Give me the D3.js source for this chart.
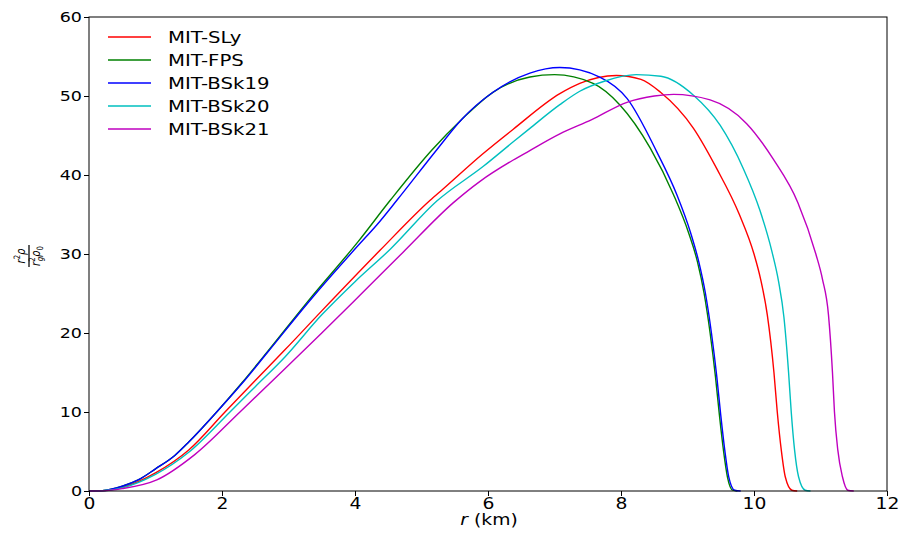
<!DOCTYPE html>
<html>
<head>
<meta charset="utf-8">
<script src="https://cdn.jsdelivr.net/npm/d3@7"></script>
<style>
  body { margin: 0; background: #fff; }
  text { font-family: "DejaVu Sans", sans-serif; fill: #000; }
</style>
</head>
<body>
<svg id="chart" width="906" height="534"></svg>
<script>
// values, [r (km), r^2 rho / rg^2 rho0]
var sly = [[0,0],[0.2,0.03],[0.5,0.45],[1.0,2.3],[1.5,5.2],[2.045,10],[2.5,14.0],[2.95,17.9],[3.5,22.8],[4.38,30.5],[5.13,36.8],
  [5.32,38.2],[5.91,42.6],[6.38,45.8],[7.08,50.3],[7.38,51.6],[7.93,52.6],[8.3,52.1],[8.59,50.5],[9.09,45.9],[9.44,40.8],
  [9.78,35.0],[10.0,30.0],[10.1,26.8],[10.2,22.3],[10.3,15.0],[10.35,10.0],[10.41,5.2],[10.47,1.8],[10.57,0.1],[10.65,0]];
var fps = [[0,0],[0.2,0.05],[0.5,0.6],[0.74,1.4],[1.0,2.8],[1.29,4.5],[1.5,6.2],[1.92,10],[2.3,13.7],[2.68,17.6],[3.3,24.1],
  [4.05,31.6],[4.53,36.8],[5.16,43.2],[5.6,47],[6.08,50.5],[6.63,52.4],[7.0,52.7],[7.58,51.6],[7.98,48.9],[8.44,43.4],
  [8.79,37.5],[9.02,32.6],[9.15,29.0],[9.25,25.0],[9.34,20.0],[9.42,14.5],[9.48,9.6],[9.54,5.2],[9.6,1.8],[9.68,0.1],[9.75,0]];
var bsk19 = [[0,0],[0.2,0.05],[0.5,0.6],[0.74,1.4],[1.0,2.8],[1.29,4.5],[1.5,6.2],[1.92,10],[2.3,13.6],[2.68,17.5],[3.3,23.9],
  [4.05,31.1],[4.33,33.7],[4.63,36.8],[5.23,43.2],[5.6,47],[6.08,50.5],[6.63,52.9],[7.08,53.6],[7.68,52.4],[8.09,49.7],
  [8.54,42.9],[8.84,37.5],[9.05,32.6],[9.17,29.0],[9.27,25.0],[9.36,20.0],[9.44,14.5],[9.5,9.6],[9.56,5.2],[9.62,1.8],
  [9.71,0.1],[9.8,0]];
var bsk20 = [[0,0],[0.2,0.03],[0.5,0.4],[1.0,2.1],[1.5,4.9],[2.12,10],[2.5,13.2],[2.95,17.0],[3.5,22.3],[4.0,26.5],[4.53,30.6],
  [5.23,36.7],[5.93,41.1],[6.38,44.2],[6.63,45.9],[7.08,48.9],[7.38,50.6],[7.76,51.9],[8.23,52.7],[8.6,52.5],[9.09,50.1],
  [9.49,46.3],[9.84,40.8],[10.09,35.5],[10.27,30.3],[10.37,26.5],[10.45,22.0],[10.52,15.0],[10.56,10.0],[10.61,5.2],
  [10.67,1.8],[10.77,0.1],[10.85,0]];
var bsk21 = [[0,0],[0.2,0.02],[0.5,0.3],[1.02,1.4],[1.59,4.6],[2.27,10],[2.95,15.5],[3.5,20.0],[4.1,25.0],[4.72,30.2],
  [5.48,36.5],[5.88,39.2],[6.38,41.9],[6.61,43.0],[7.08,45.2],[7.56,47.0],[8.09,49.2],[8.5,50.0],[8.79,50.2],[9.34,49.5],
  [9.89,46.5],[10.29,42.0],[10.66,36.5],[10.93,30.0],[11.03,26.8],[11.12,22.3],[11.18,15.0],[11.21,10.0],[11.26,5.2],
  [11.33,1.8],[11.41,0.1],[11.5,0]];

var seriesNames = ["MIT-SLy", "MIT-FPS", "MIT-BSk19", "MIT-BSk20", "MIT-BSk21"];
var seriesData = [sly, fps, bsk19, bsk20, bsk21];
var seriesColors = ["#ff0000", "#008000", "#0000ff", "#00bfbf", "#bf00bf"];
var xTicks = [0, 2, 4, 6, 8, 10, 12];
var yTicks = [0, 10, 20, 30, 40, 50, 60];

// the reference figure is stretched sideways a little, so text gets a x scale
var stretch = 1.25;

var svg = d3.select("#chart");
var margin = {left: 89, top: 17, right: 19, bottom: 43};
var width = 906 - margin.left - margin.right;
var height = 534 - margin.top - margin.bottom;

var x = d3.scaleLinear().domain([0, 12]).range([0, width]);
var y = d3.scaleLinear().domain([0, 60]).range([height, 0]);

var g = svg.append("g").attr("transform", "translate(" + margin.left + "," + margin.top + ")");

var line = d3.line()
  .x(function(d){ return x(d[0]); })
  .y(function(d){ return y(d[1]); })
  .curve(d3.curveMonotoneX);

g.selectAll("path.series")
  .data(seriesData)
  .enter().append("path")
  .attr("class", "series")
  .attr("d", line)
  .attr("fill", "none")
  .attr("stroke", function(d, i){ return seriesColors[i]; })
  .attr("stroke-width", 1.4);

// frame
g.append("rect")
  .attr("x", 0).attr("y", 0)
  .attr("width", width).attr("height", height)
  .attr("fill", "none").attr("stroke", "#000").attr("stroke-width", 1);

var xAxis = g.append("g")
  .attr("transform", "translate(0," + height + ")")
  .call(d3.axisBottom(x).tickValues(xTicks).tickSize(5).tickPadding(2).tickFormat(d3.format("d")));
var yAxis = g.append("g")
  .call(d3.axisLeft(y).tickValues(yTicks).tickSize(5).tickPadding(2).tickFormat(d3.format("d")));
[xAxis, yAxis].forEach(function(a){
  a.select(".domain").remove();
  a.selectAll("line").attr("stroke", "#000");
});
xAxis.selectAll("text").style("font-size", "15px").attr("transform", "scale(" + stretch + ",1)");
yAxis.selectAll("text").style("font-size", "14px")
  .attr("x", -7 / stretch)
  .attr("transform", "scale(" + stretch + ",1)");

// x label
svg.append("text")
  .attr("transform", "translate(489,525) scale(" + stretch + ",1)")
  .attr("text-anchor", "middle")
  .style("font-size", "15px")
  .html('<tspan font-style="italic">r</tspan> (km)');

// y label: fraction r^2 rho / rg^2 rho0
var yl = svg.append("g").attr("transform", "translate(29,256) rotate(-90) scale(1," + stretch + ")");
yl.append("line").attr("x1", -11).attr("x2", 11).attr("y1", 0).attr("y2", 0)
  .attr("stroke", "#000").attr("stroke-width", 1);
yl.append("text").attr("x", 0).attr("y", -3).attr("text-anchor", "middle")
  .style("font-size", "10px")
  .html('<tspan font-style="italic">r</tspan><tspan dy="-4" font-size="7px">2</tspan><tspan dy="4" font-style="italic">ρ</tspan>');
yl.append("text").attr("x", 0).attr("y", 9).attr("text-anchor", "middle")
  .style("font-size", "10px")
  .html('<tspan font-style="italic">r</tspan><tspan dy="-4" font-size="7px">2</tspan><tspan dx="-4" dy="6" font-size="7px" font-style="italic">g</tspan><tspan dy="-2" font-style="italic">ρ</tspan><tspan dy="2" font-size="7px">0</tspan>');

// legend
var legend = svg.append("g");
seriesNames.forEach(function(name, i){
  var ly = 37 + i * 23;
  legend.append("line").attr("x1", 108).attr("x2", 151).attr("y1", ly).attr("y2", ly)
    .attr("stroke", seriesColors[i]).attr("stroke-width", 1.4);
  legend.append("text")
    .attr("transform", "translate(168," + (ly + 5.8) + ") scale(1.23,1)")
    .style("font-size", "16px").text(name);
});
</script>
</body>
</html>
